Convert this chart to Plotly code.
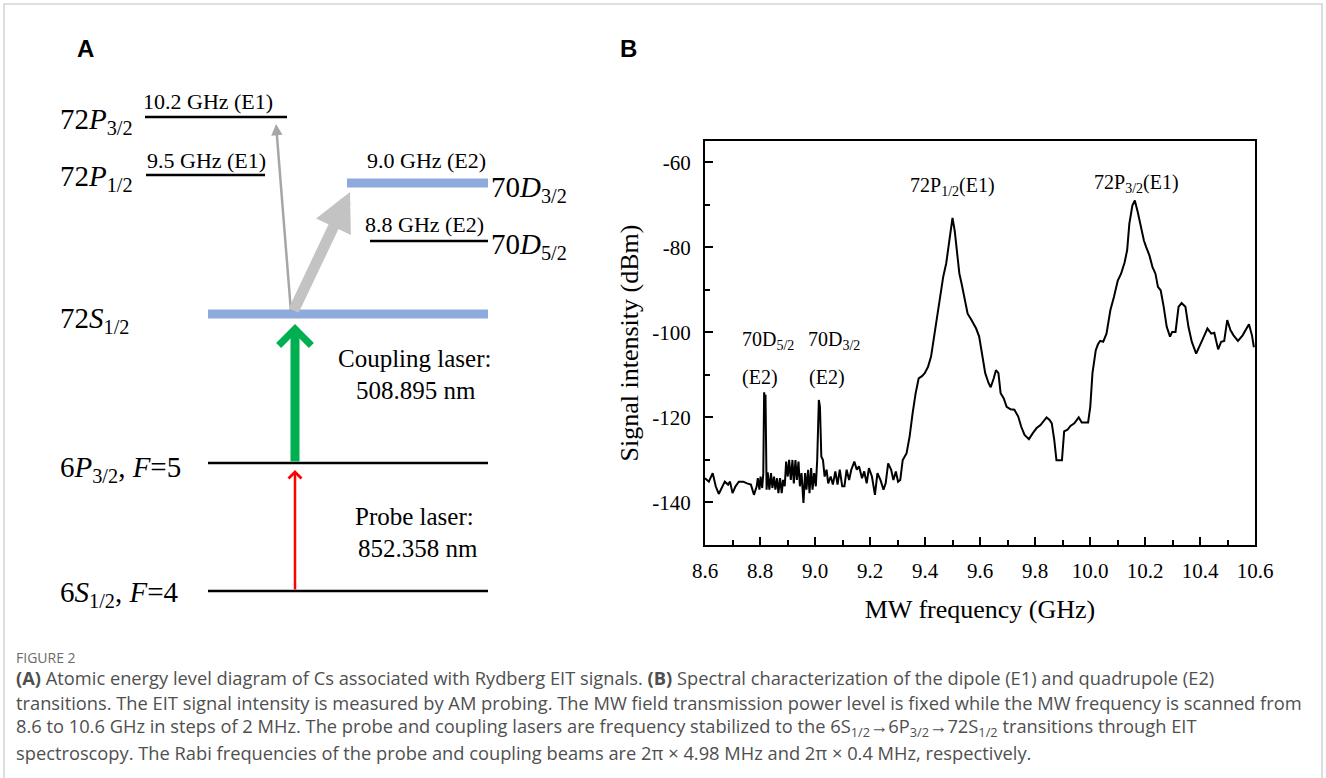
import plotly.graph_objects as go

# ---- panel B data: EIT signal vs MW frequency ----
freq_ghz = [
    8.600, 8.614, 8.628, 8.639, 8.650, 8.663, 8.672, 8.684, 8.691, 8.700,
    8.711, 8.723, 8.739, 8.753, 8.767, 8.778, 8.788, 8.792, 8.798, 8.802,
    8.808, 8.812, 8.815, 8.817, 8.820, 8.824, 8.828, 8.834, 8.840, 8.845,
    8.851, 8.856, 8.862, 8.867, 8.873, 8.879, 8.884, 8.890, 8.895, 8.901,
    8.906, 8.912, 8.918, 8.923, 8.929, 8.934, 8.940, 8.945, 8.951, 8.958,
    8.964, 8.969, 8.975, 8.980, 8.986, 8.991, 8.997, 9.003, 9.008, 9.014,
    9.018, 9.023, 9.029, 9.035, 9.042, 9.048, 9.057, 9.065, 9.074, 9.082,
    9.090, 9.099, 9.107, 9.115, 9.124, 9.132, 9.143, 9.152, 9.160, 9.171,
    9.179, 9.188, 9.196, 9.207, 9.218, 9.227, 9.238, 9.249, 9.257, 9.266,
    9.277, 9.285, 9.294, 9.302, 9.310, 9.319, 9.333, 9.344, 9.355, 9.366,
    9.377, 9.389, 9.399, 9.411, 9.422, 9.433, 9.444, 9.455, 9.466, 9.477,
    9.489, 9.500, 9.508, 9.516, 9.525, 9.533, 9.544, 9.555, 9.569, 9.586,
    9.597, 9.608, 9.619, 9.631, 9.639, 9.650, 9.658, 9.667, 9.675, 9.686,
    9.697, 9.711, 9.725, 9.739, 9.750, 9.762, 9.778, 9.792, 9.806, 9.820,
    9.834, 9.842, 9.853, 9.861, 9.870, 9.878, 9.898, 9.906, 9.918, 9.929,
    9.943, 9.959, 9.970, 9.993, 10.001, 10.009, 10.021, 10.029, 10.037, 10.048,
    10.060, 10.074, 10.087, 10.101, 10.113, 10.126, 10.135, 10.143, 10.154, 10.163,
    10.174, 10.185, 10.196, 10.204, 10.216, 10.227, 10.238, 10.247, 10.257, 10.268,
    10.279, 10.291, 10.299, 10.311, 10.322, 10.333, 10.347, 10.358, 10.370, 10.386,
    10.400, 10.414, 10.427, 10.441, 10.452, 10.466, 10.477, 10.488, 10.499, 10.511,
    10.522, 10.538, 10.555, 10.566, 10.578, 10.589, 10.596,
]
signal_dbm = [
    -134.3, -135.1, -133.1, -136.2, -138.0, -136.2, -135.1, -135.8, -135.1, -137.8,
    -136.2, -135.1, -135.1, -135.5, -135.8, -138.2, -136.2, -134.3, -137.0, -133.9,
    -136.6, -133.1, -114.1, -115.1, -114.7, -137.0, -132.9, -137.0, -133.1, -136.6,
    -133.9, -137.0, -134.3, -137.8, -134.3, -137.8, -134.7, -136.2, -130.4, -133.9,
    -130.0, -134.7, -130.0, -135.5, -130.0, -134.7, -130.4, -136.2, -133.1, -140.1,
    -133.1, -137.0, -132.3, -137.8, -131.9, -137.0, -133.1, -136.2, -130.0, -115.9,
    -117.5, -129.2, -130.0, -133.9, -132.3, -135.5, -133.9, -135.8, -132.7, -135.8,
    -132.3, -136.2, -136.2, -132.3, -134.7, -132.3, -130.4, -132.3, -131.5, -134.3,
    -132.7, -135.5, -131.9, -133.9, -138.2, -133.1, -134.7, -137.0, -135.5, -130.8,
    -132.3, -134.7, -132.7, -135.1, -134.7, -130.0, -128.4, -124.5, -119.0, -114.3,
    -110.8, -110.3, -109.6, -108.1, -105.7, -101.0, -95.6, -90.9, -87.0, -83.8,
    -77.6, -73.1, -76.1, -80.7, -86.2, -88.5, -91.7, -95.6, -97.1, -99.1,
    -101.0, -105.7, -109.6, -111.9, -112.9, -110.8, -108.9, -109.6, -114.3, -115.5,
    -117.5, -118.1, -118.2, -119.8, -122.2, -124.1, -125.1, -123.7, -122.5, -121.8,
    -120.6, -120.0, -120.6, -121.4, -125.3, -130.1, -130.1, -123.3, -122.9, -122.0,
    -121.4, -120.0, -121.2, -121.2, -117.5, -109.6, -104.2, -102.8, -102.0, -102.2,
    -100.3, -94.8, -91.7, -87.8, -86.2, -83.5, -80.7, -74.5, -70.2, -69.0,
    -71.8, -75.2, -78.4, -79.9, -81.9, -84.6, -86.2, -89.3, -90.1, -94.0,
    -98.7, -101.0, -99.9, -99.9, -94.0, -93.1, -94.0, -98.7, -102.2, -105.0,
    -102.8, -101.0, -99.1, -100.3, -100.1, -104.0, -102.2, -102.0, -97.1, -99.5,
    -100.7, -102.0, -100.7, -99.5, -98.1, -100.7, -103.5,
]
y_tickvals = [-140, -120, -100, -80, -60]
y_ticktext = ["-140", "-120", "-100", "-80", "-60"]

peak_text = ["72P<sub>1/2</sub>(E1)", "72P<sub>3/2</sub>(E1)",
             "70D<sub>5/2</sub>", "(E2)", "70D<sub>3/2</sub>", "(E2)"]
peak_x = [9.50, 10.17, 8.83, 8.80, 9.07, 9.045]
peak_y = [-65.8, -65.0, -102.0, -110.6, -102.0, -110.6]

# ---- panel A: energy-level diagram (diagram units = pixels) ----
level_name = ["72P3/2", "72P1/2", "70D3/2", "70D5/2", "72S1/2", "6P3/2", "6S1/2"]
level_y = [117, 175, 183, 241, 314, 463, 591]
level_x0 = [145, 146, 347, 370, 208, 208, 208]
level_x1 = [287, 265, 488, 488, 488, 488, 488]
level_blue = [False, False, True, False, True, False, False]

left_labels = ["72<i>P</i><sub>3/2</sub>", "72<i>P</i><sub>1/2</sub>", "72<i>S</i><sub>1/2</sub>",
               "6<i>P</i><sub>3/2</sub>, <i>F</i>=5", "6<i>S</i><sub>1/2</sub>, <i>F</i>=4"]
left_label_y = [121, 178, 320, 469, 594]
right_labels = ["70<i>D</i><sub>3/2</sub>", "70<i>D</i><sub>5/2</sub>"]
right_label_y = [189, 246]

mw_text = ["10.2 GHz (E1)", "9.5 GHz (E1)", "9.0 GHz (E2)", "8.8 GHz (E2)"]
mw_x = [208, 206, 426, 424]
mw_y = [101, 160, 160, 224]

laser_text = ["Coupling laser:", "508.895 nm", "Probe laser:", "852.358 nm"]
laser_x = [414, 416, 414, 418]
laser_y = [358, 390, 516, 548]

SERIF = "Liberation Serif"

fig = go.Figure()

# spectrum
fig.add_trace(go.Scatter(
    x=freq_ghz, y=signal_dbm, mode="lines",
    line=dict(color="black", width=2), showlegend=False,
    xaxis="x", yaxis="y"))

# energy levels
for name, y, x0, x1, blue in zip(level_name, level_y, level_x0, level_x1, level_blue):
    fig.add_trace(go.Scatter(
        x=[x0, x1], y=[y, y], mode="lines", name=name,
        line=dict(color="#8EA9DB" if blue else "black", width=9 if blue else 2.5),
        showlegend=False, xaxis="x2", yaxis="y2"))

ann = []

def diag_text(txt, x, y, size, xanchor="center"):
    ann.append(dict(text=txt, x=x, y=y, xref="x2", yref="y2", showarrow=False,
                    xanchor=xanchor, yanchor="middle",
                    font=dict(family=SERIF, size=size, color="black")))

for t, y in zip(left_labels, left_label_y):
    diag_text(t, 58, y, 29, "left")
for t, y in zip(right_labels, right_label_y):
    diag_text(t, 489, y, 29, "left")
for t, x, y in zip(mw_text, mw_x, mw_y):
    diag_text(t, x, y, 22)
for t, x, y in zip(laser_text, laser_x, laser_y):
    diag_text(t, x, y, 25)

# arrows (tail -> tip)
def arrow(x0, y0, x1, y1, color, width, head, size):
    ann.append(dict(x=x1, y=y1, ax=x0, ay=y0, xref="x2", yref="y2",
                    axref="x2", ayref="y2", showarrow=True, text="",
                    arrowcolor=color, arrowwidth=width, arrowhead=head,
                    arrowsize=size, standoff=0, startstandoff=0))

arrow(291, 312, 276, 124, "#A6A6A6", 2.5, 2, 0.9)
arrow(293, 312, 350, 192, "#C3C3C3", 11, 2, 0.7)
arrow(295, 463, 295, 324, "#00B050", 9, 4, 0.7)
arrow(295, 591, 295, 470, "#FF0000", 2.5, 4, 1.0)

# panel letters
for letter, x in [("A", 85), ("B", 628)]:
    ann.append(dict(text="<b>%s</b>" % letter, x=x, y=48, xref="x2", yref="y2",
                    showarrow=False, font=dict(family="Liberation Sans", size=24, color="black")))

# panel B labels
for t, x, y in zip(peak_text, peak_x, peak_y):
    ann.append(dict(text=t, x=x, y=y, xref="x", yref="y", showarrow=False,
                    font=dict(family=SERIF, size=20, color="black")))

# caption
cap_lines = [
    "<b>(A)</b> Atomic energy level diagram of Cs associated with Rydberg EIT signals. <b>(B)</b> Spectral characterization of the dipole (E1) and quadrupole (E2)",
    "transitions. The EIT signal intensity is measured by AM probing. The MW field transmission power level is fixed while the MW frequency is scanned from",
    "8.6 to 10.6 GHz in steps of 2 MHz. The probe and coupling lasers are frequency stabilized to the 6S<sub>1/2</sub>→6P<sub>3/2</sub>→72S<sub>1/2</sub> transitions through EIT",
    "spectroscopy. The Rabi frequencies of the probe and coupling beams are 2π × 4.98 MHz and 2π × 0.4 MHz, respectively.",
]
ann.append(dict(text="FIGURE 2", x=14, y=657, xref="x2", yref="y2", showarrow=False,
                xanchor="left", yanchor="middle",
                font=dict(family="Open Sans", size=14, color="#6b6b6b")))
for i, line in enumerate(cap_lines):
    ann.append(dict(text=line, x=14, y=677 + 25 * i, xref="x2", yref="y2", showarrow=False,
                    xanchor="left", yanchor="middle",
                    font=dict(family="Open Sans", size=18.3, color="#4f4f4f")))

fig.update_layout(
    width=1326, height=778,
    margin=dict(l=0, r=0, t=0, b=0, autoexpand=False),
    paper_bgcolor="white", plot_bgcolor="rgba(0,0,0,0)",
    showlegend=False,
    annotations=ann,
    xaxis=dict(
        domain=[705 / 1326, 1255 / 1326], anchor="y", automargin=False,
        range=[8.6, 10.6], dtick=0.2, tick0=8.6, tickformat=".1f",
        showgrid=False, zeroline=False,
        showline=True, linecolor="black", linewidth=2, mirror=True,
        ticks="inside", ticklen=8, tickwidth=2, tickcolor="black",
        minor=dict(dtick=0.1, ticks="inside", ticklen=5, tickwidth=2, tickcolor="black"),
        tickfont=dict(family=SERIF, size=21, color="black"),
        ticklabelstandoff=6,
        title=dict(text="MW frequency (GHz)", standoff=18,
                   font=dict(family=SERIF, size=26, color="black")),
    ),
    yaxis=dict(
        domain=[1 - 545 / 778, 1 - 141 / 778], anchor="x", automargin=False,
        range=[-150, -55], tickvals=y_tickvals, ticktext=y_ticktext,
        showgrid=False, zeroline=False,
        showline=True, linecolor="black", linewidth=2, mirror=True,
        ticks="inside", ticklen=8, tickwidth=2, tickcolor="black",
        minor=dict(tickvals=[-150, -130, -110, -90, -70], ticks="inside",
                   ticklen=5, tickwidth=2, tickcolor="black"),
        tickfont=dict(family=SERIF, size=21, color="black"),
        ticklabelstandoff=8,
        title=dict(text="Signal intensity (dBm)", standoff=6,
                   font=dict(family=SERIF, size=26, color="black")),
    ),
    xaxis2=dict(domain=[0, 1], range=[0, 1326], visible=False, anchor="y2",
                fixedrange=True, automargin=False),
    yaxis2=dict(domain=[0, 1], range=[778, 0], visible=False, anchor="x2",
                fixedrange=True, automargin=False),
    shapes=[dict(type="rect", xref="paper", yref="paper", x0=4 / 1326, x1=1322 / 1326,
                 y0=-0.01, y1=1 - 4 / 778, line=dict(color="#d3d3d3", width=1.5))],
)

fig.write_html("out.html", config={"displayModeBar": False},
               post_script="document.body.style.margin='0';document.body.style.overflow='hidden';")
